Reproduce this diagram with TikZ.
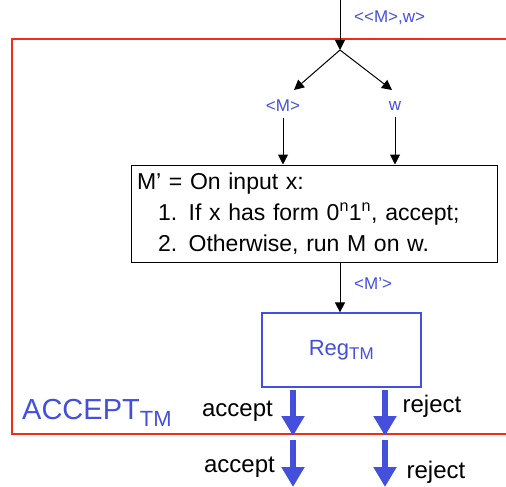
\documentclass[tikz,border=0pt]{standalone}
\usepackage{fontspec}
\setmainfont{Liberation Sans}
\usetikzlibrary{arrows.meta}
\definecolor{myblue}{RGB}{68,80,220}
\definecolor{myred}{RGB}{240,45,25}
\tikzset{
  thin arrow/.style={draw=black, line width=1pt, -{Triangle[length=10pt,width=10pt]}},
  fat arrow/.style={draw=myblue, line width=6pt, -{Triangle[length=20pt,width=22pt]}, shorten >=0pt},
  bluelabel/.style={text=myblue, font=\fontsize{17}{19}\selectfont, inner sep=0pt},
  outlabel/.style={text=black, font=\fontsize{24}{26}\selectfont, inner sep=0pt},
}
\begin{document}
\begin{tikzpicture}[x=1pt,y=-1pt]
\useasboundingbox (0,0) rectangle (506,487);
% red outer box
\draw[myred, line width=2pt] (506,39) -- (12,39) -- (12,434) -- (506,434);
% coordinates
\coordinate (top) at (340,0);
\coordinate (split) at (340,50);
\node[bluelabel, anchor=west] (inlab) at (354,18) {<{}<M>,w>};
\node[bluelabel] (mlab) at (283,106) {<M>};
\node[bluelabel] (wlab) at (395,106) {w};
\draw[thin arrow] (top) -- (split);
\draw[thin arrow] (split) -- (294,90);
\draw[thin arrow] (split) -- (392,90);
% main box
\node[draw=black, line width=1pt, minimum width=366pt, minimum height=97pt,
      text width=354pt, align=left, inner xsep=6pt, inner ysep=0pt,
      font=\fontsize{23}{31}\selectfont] (mp) at (314,213.5)
  {M’ = On input x:\\
   \hspace*{21pt}1. If x has form 0\textsuperscript{n}1\textsuperscript{n}, accept;\\
   \hspace*{21pt}2. Otherwise, run M on w.};
\draw[thin arrow] (mlab.south) ++(0,6) coordinate (ma) -- (ma |- mp.north);
\draw[thin arrow] (wlab.south) ++(0,6) coordinate (wa) -- (wa |- mp.north);
% reg box
\node[draw=myblue, line width=1.2pt, minimum width=159pt, minimum height=74pt, inner sep=0pt,
      text=myblue, font=\fontsize{22}{24}\selectfont] (reg) at (341.5,350)
  {Reg\textsubscript{\fontsize{17}{19}\selectfont TM}};
\coordinate (mpo) at (340,262);
\draw[thin arrow] (mpo) -- (mpo |- reg.north);
\node[bluelabel, anchor=west] (mplab) at (354,284) {<M’>};
% fat arrows
\coordinate (a1) at (293,390); \coordinate (a2) at (293,436);
\coordinate (a3) at (293,440); \coordinate (a4) at (293,487);
\coordinate (r1) at (385,390); \coordinate (r2) at (385,436);
\coordinate (r3) at (385,440); \coordinate (r4) at (385,487);
\draw[fat arrow] (a1) -- (a2);
\draw[fat arrow] (a3) -- (a4);
\draw[fat arrow] (r1) -- (r2);
\draw[fat arrow] (r3) -- (r4);
\node[outlabel] (acc1) at (237.5,411) {accept};
\node[outlabel] (rej1) at (432,406) {reject};
\node[outlabel] (acc2) at (239.5,467) {accept};
\node[outlabel] (rej2) at (436,472) {reject};
% ACCEPT_TM
\node[text=myblue, font=\fontsize{29}{32}\selectfont, inner sep=0pt, anchor=west] (acctm) at (22,413)
  {ACCEPT\textsubscript{\fontsize{22}{23}\selectfont TM}};
\end{tikzpicture}
\end{document}
